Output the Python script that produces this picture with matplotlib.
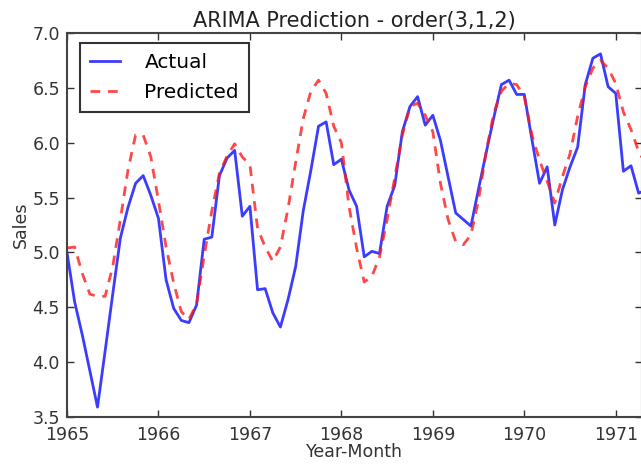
import matplotlib
matplotlib.use("Agg")
import matplotlib.pyplot as plt
import numpy as np

start_year = 1965
actual = [5.00, 4.55, 4.25, 3.92, 3.59, 4.10, 4.62, 5.13, 5.41, 5.63, 5.70, 5.52,
          5.31, 4.75, 4.49, 4.38, 4.36, 4.52, 5.12, 5.14, 5.70, 5.86, 5.93, 5.33,
          5.42, 4.66, 4.67, 4.45, 4.32, 4.57, 4.87, 5.38, 5.75, 6.15, 6.19, 5.80,
          5.85, 5.57, 5.42, 4.96, 5.01, 4.99, 5.42, 5.61, 6.10, 6.33, 6.42, 6.16,
          6.25, 6.02, 5.69, 5.36, 5.30, 5.24, 5.58, 5.91, 6.23, 6.53, 6.57, 6.44,
          6.44, 6.03, 5.63, 5.78, 5.25, 5.57, 5.78, 5.96, 6.53, 6.77, 6.81, 6.51,
          6.45, 5.74, 5.79, 5.54, 5.57]
predicted = [5.04, 5.05, 4.81, 4.62, 4.60, 4.60, 4.87, 5.30, 5.75, 6.07, 6.07, 5.87,
             5.47, 5.05, 4.72, 4.46, 4.39, 4.53, 4.97, 5.38, 5.72, 5.88, 5.99, 5.87,
             5.80, 5.22, 5.05, 4.92, 5.05, 5.40, 5.82, 6.22, 6.47, 6.57, 6.45, 6.15,
             6.00, 5.42, 5.04, 4.73, 4.78, 4.96, 5.30, 5.68, 6.07, 6.33, 6.36, 6.25,
             6.10, 5.63, 5.30, 5.10, 5.07, 5.16, 5.48, 5.92, 6.27, 6.47, 6.54, 6.53,
             6.42, 6.07, 5.84, 5.65, 5.45, 5.69, 5.90, 6.24, 6.51, 6.68, 6.75, 6.68,
             6.54, 6.28, 6.12, 5.92, 5.80]
year_ticks = [1965, 1966, 1967, 1968, 1969, 1970, 1971]
y_ticks = [3.5, 4.0, 4.5, 5.0, 5.5, 6.0, 6.5, 7.0]

x = start_year + np.arange(len(actual)) / 12.0

fig = plt.figure(figsize=(6.41, 4.66), dpi=100)
fig.patch.set_facecolor("white")
ax = fig.add_axes([67/641, 49/466, 575/641, 384/466])

ax.plot(x, actual, color="#1a1aff", alpha=0.85, lw=2, label="Actual")
ax.plot(x, predicted, color="#ff1a1a", alpha=0.8, lw=2, linestyle=(0, (3.5, 2.8)), label="Predicted")

ax.set_xlim(1965, 1965 + 574/91.3)
ax.set_ylim(3.5, 7.0)
ax.set_xticks(year_ticks)
ax.set_xticklabels([str(t) for t in year_ticks])
ax.set_yticks(y_ticks)
ax.set_yticklabels(["%.1f" % t for t in y_ticks])

ax.tick_params(direction="in", top=True, right=True, length=5, width=1,
               labelsize=12.5, colors="#333333")
ax.tick_params(axis="x", pad=6.5)
ax.tick_params(axis="y", pad=5)
for s in ax.spines.values():
    s.set_color("#444444")
    s.set_linewidth(1.5)

ax.set_title("ARIMA Prediction - order(3,1,2)", fontsize=15, color="#222222", pad=4)
ax.set_xlabel("Year-Month", fontsize=12.5, color="#333333", labelpad=-1)
ax.set_ylabel("Sales", fontsize=12.5, color="#333333", labelpad=2)

leg = ax.legend(loc="upper left", fontsize=14.5, fancybox=False, framealpha=1,
                edgecolor="#333333", handlelength=1.5, handletextpad=1.2,
                borderpad=0.5, labelspacing=0.55,
                bbox_to_anchor=(0.005, 1.0), borderaxespad=0.5)
leg.get_frame().set_linewidth(1.5)

fig.savefig("out.png", dpi=100, facecolor="white")
